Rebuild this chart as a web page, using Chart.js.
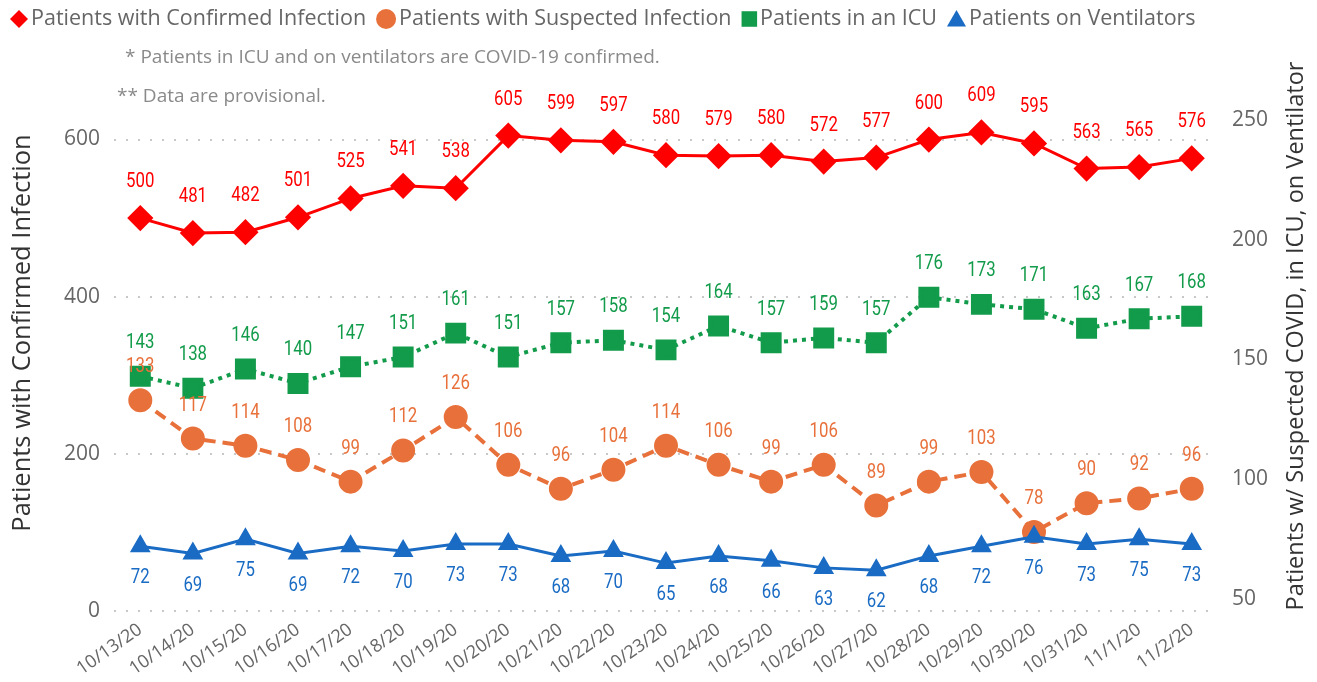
<!DOCTYPE html>
<html>
<head>
<meta charset="utf-8">
<title>COVID-19 Hospitalizations</title>
<script src="https://cdn.jsdelivr.net/npm/chart.js@4.4.1/dist/chart.umd.min.js"></script>
<style>
  html, body { margin: 0; padding: 0; background: #fff; }
  #wrap { width: 1317px; height: 682px; position: relative; }
</style>
</head>
<body>
<div id="wrap"><canvas id="hospChart"></canvas></div>
<script>
const dates = ['10/13/20', '10/14/20', '10/15/20', '10/16/20', '10/17/20', '10/18/20', '10/19/20',
  '10/20/20', '10/21/20', '10/22/20', '10/23/20', '10/24/20', '10/25/20', '10/26/20', '10/27/20',
  '10/28/20', '10/29/20', '10/30/20', '10/31/20', '11/1/20', '11/2/20'];
const confirmed = [500, 481, 482, 501, 525, 541, 538, 605, 599, 597, 580, 579, 580, 572, 577, 600, 609, 595, 563, 565, 576];
const suspected = [133, 117, 114, 108, 99, 112, 126, 106, 96, 104, 114, 106, 99, 106, 89, 99, 103, 78, 90, 92, 96];
const icu = [143, 138, 146, 140, 147, 151, 161, 151, 157, 158, 154, 164, 157, 159, 157, 176, 173, 171, 163, 167, 168];
const ventilators = [72, 69, 75, 69, 72, 70, 73, 73, 68, 70, 65, 68, 66, 63, 62, 68, 72, 76, 73, 75, 73];
const leftTicks = [0, 200, 400, 600];
const rightTicks = [50, 100, 150, 200, 250];
const notes = ['* Patients in ICU and on ventilators are COVID-19 confirmed.', '** Data are provisional.'];
const leftTitle = 'Patients with Confirmed Infection';
const rightTitle = 'Patients w/ Suspected COVID, in ICU, on Ventilator';

const uiFont = '"Segoe UI", "Open Sans", sans-serif';
const numFont = 'Roboto, "DejaVu Sans Condensed", sans-serif';

// legend, notes, axis titles and value labels
const extras = {
  id: 'extras',
  afterDatasetsDraw(chart) {
    const ctx = chart.ctx;
    ctx.save();
    ctx.font = '20px ' + numFont;
    ctx.textAlign = 'center';
    ctx.textBaseline = 'middle';
    chart.data.datasets.forEach((ds, i) => {
      const meta = chart.getDatasetMeta(i);
      ctx.fillStyle = ds.borderColor;
      meta.data.forEach((pt, j) => {
        ctx.save();
        ctx.translate(pt.x, pt.y + ds.labelShift);
        ctx.scale(0.84, 1); // narrow look of the original labels
        ctx.fillText(String(ds.data[j]), 0, 0);
        ctx.restore();
      });
    });
    ctx.restore();
  },
  afterDraw(chart) {
    const ctx = chart.ctx;
    ctx.save();

    // legend
    ctx.font = '21.5px ' + uiFont;
    ctx.textBaseline = 'middle';
    ctx.textAlign = 'left';
    let x = 10;
    const ly = 19;
    chart.data.datasets.forEach(ds => {
      const r = ds.legendRadius;
      let half = r;
      if (ds.pointStyle === 'rect') half = r * Math.SQRT1_2;
      if (ds.pointStyle === 'triangle') half = r * 0.866;
      ctx.fillStyle = ds.borderColor;
      Chart.helpers.drawPoint(ctx, {pointStyle: ds.pointStyle, radius: r, rotation: 0, borderWidth: 0}, x + half, ly + (ds.pointStyle === 'triangle' ? 2 : 0));
      x += half * 2 + 3;
      ctx.fillStyle = '#666';
      ctx.fillText(ds.label, x, ly);
      x += ctx.measureText(ds.label).width + 10;
    });

    // notes
    ctx.font = '19px ' + uiFont;
    ctx.fillStyle = '#8a8a8a';
    ctx.fillText(notes[0], 125, 58);
    ctx.fillText(notes[1], 117, 97);

    // axis titles
    ctx.fillStyle = '#333';
    ctx.textAlign = 'center';
    ctx.font = '25.5px ' + uiFont;
    ctx.translate(23, 333);
    ctx.rotate(-Math.PI / 2);
    ctx.fillText(leftTitle, 0, 0);
    ctx.setTransform(1, 0, 0, 1, 0, 0);
    ctx.font = '23.5px ' + uiFont;
    ctx.translate(1296, 336);
    ctx.rotate(-Math.PI / 2);
    ctx.fillText(rightTitle, 0, 0);
    ctx.restore();
  }
};

new Chart(document.getElementById('hospChart'), {
  type: 'line',
  data: {
    labels: dates,
    datasets: [
      {
        label: 'Patients with Confirmed Infection',
        data: confirmed,
        yAxisID: 'y',
        borderColor: '#FF0000',
        backgroundColor: '#FF0000',
        borderWidth: 3,
        pointStyle: 'rectRot',
        pointRadius: 11,
        labelShift: -36,
        legendRadius: 9,
        order: 3
      },
      {
        label: 'Patients with Suspected Infection',
        data: suspected,
        yAxisID: 'y1',
        borderColor: '#E8703A',
        backgroundColor: '#E8703A',
        borderWidth: 4,
        borderDash: [12, 7],
        pointStyle: 'circle',
        pointRadius: 10,
        labelShift: -33,
        legendRadius: 10,
        order: 2
      },
      {
        label: 'Patients in an ICU',
        data: icu,
        yAxisID: 'y1',
        borderColor: '#129B4A',
        backgroundColor: '#129B4A',
        borderWidth: 4,
        borderDash: [4, 5],
        pointStyle: 'rect',
        pointRadius: 12,
        labelShift: -33,
        legendRadius: 11,
        order: 1
      },
      {
        label: 'Patients on Ventilators',
        data: ventilators,
        yAxisID: 'y1',
        borderColor: '#1A6BC4',
        backgroundColor: '#1A6BC4',
        borderWidth: 3,
        pointStyle: 'triangle',
        pointRadius: 9,
        labelShift: 32,
        legendRadius: 11,
        order: 0
      }
    ]
  },
  options: {
    responsive: true,
    maintainAspectRatio: false,
    animation: false,
    events: [],
    layout: { padding: { top: 112, left: 0, right: 0, bottom: 0 } },
    elements: {
      line: { tension: 0, fill: false },
      point: { borderWidth: 0, hoverRadius: 0 }
    },
    plugins: {
      legend: { display: false },
      tooltip: { enabled: false }
    },
    scales: {
      x: {
        type: 'category',
        offset: true,
        grid: { display: false },
        border: { display: false },
        ticks: {
          color: '#666',
          font: { family: uiFont, size: 18 },
          minRotation: 35,
          maxRotation: 35,
          autoSkip: false,
          padding: 0
        },
        afterFit(s) { s.height = 71; }
      },
      y: {
        position: 'left',
        min: 0,
        max: 635,
        grid: { color: '#C8C8C8', lineWidth: 2, drawTicks: false },
        border: { display: false, dash: [2, 10] },
        ticks: { color: '#666', font: { family: uiFont, size: 21 }, padding: 14 },
        afterBuildTicks(s) { s.ticks = leftTicks.map(v => ({ value: v })); },
        afterFit(s) { s.width = 114; }
      },
      y1: {
        position: 'right',
        min: 45,
        max: 253.3,
        grid: { drawOnChartArea: false, drawTicks: false },
        border: { display: false },
        ticks: { color: '#666', font: { family: uiFont, size: 21 }, padding: 14 },
        afterBuildTicks(s) { s.ticks = rightTicks.map(v => ({ value: v })); },
        afterFit(s) { s.width = 99; }
      }
    }
  },
  plugins: [extras]
});
</script>
</body>
</html>
